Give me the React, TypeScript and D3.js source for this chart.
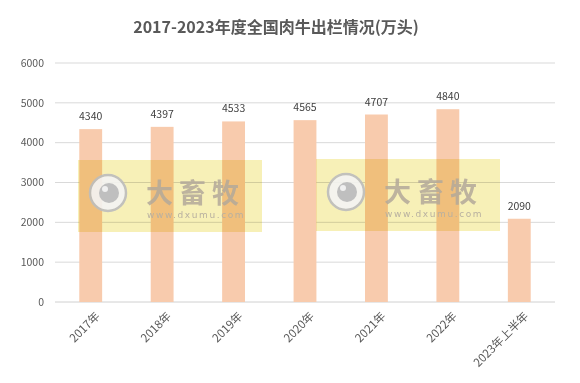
import React from "react";
import * as d3 from "d3";

const categories = ["2017年", "2018年", "2019年", "2020年", "2021年", "2022年", "2023年上半年"];
const values = [4340, 4397, 4533, 4565, 4707, 4840, 2090];
const yTicks = [0, 1000, 2000, 3000, 4000, 5000, 6000];
const title = "2017-2023年度全国肉牛出栏情况(万头)";

const W = 580;
const H = 383;
const margin = { left: 55, right: 25, top: 63, bottom: 81 };
const FONT = "'Noto Sans CJK SC', 'Noto Sans', sans-serif";

function Watermark({ x, y }: { x: number; y: number }) {
  return (
    <g transform={`translate(${x},${y})`}>
      <rect x={0} y={0} width={184} height={72} fill="#f6eeaa" style={{ mixBlendMode: "multiply" }} opacity={0.85} />
      <circle cx={30} cy={33} r={18} fill="#f4f4f4" stroke="#bdbdbd" strokeWidth={2.5} opacity={0.9} />
      <circle cx={31} cy={33} r={10} fill="#bfbfbf" />
      <circle cx={27} cy={29} r={3} fill="#f0f0f0" />
      <text x={68} y={43} fontFamily={FONT} fontWeight="bold" fontSize={27} fill="#b3a99a" opacity={0.85} letterSpacing={6}>
        大畜牧
      </text>
      <text x={69} y={58} fontFamily="'DejaVu Sans', sans-serif" fontSize={9} fill="#b8b0a0" letterSpacing={1.6}>
        www.dxumu.com
      </text>
    </g>
  );
}

export default function App() {
  const x = d3
    .scaleBand<string>()
    .domain(categories)
    .range([margin.left, W - margin.right])
    .paddingInner(0.68)
    .paddingOuter(0.34);
  const y = d3.scaleLinear().domain([0, 6000]).range([H - margin.bottom, margin.top]);

  return (
    <svg width={W} height={H} style={{ position: "absolute", left: 0, top: 0, background: "#fff" }}>
      <rect x={0} y={0} width={W} height={H} fill="#fff" />
      <text x={276} y={33} textAnchor="middle" fontFamily={FONT} fontWeight="bold" fontSize={16} fill="#595959">
        {title}
      </text>
      {yTicks.map((t) => (
        <g key={t}>
          <line x1={margin.left} x2={W - margin.right} y1={y(t)} y2={y(t)} stroke={t === 0 ? "#d0d0d0" : "#d9d9d9"} strokeWidth={1} />
          <text x={44} y={y(t)} dy="0.35em" textAnchor="end" fontFamily={FONT} fontSize={10.5} fill="#595959">
            {t}
          </text>
        </g>
      ))}
      {categories.map((c, i) => (
        <g key={c}>
          <rect x={x(c)!} y={y(values[i])} width={x.bandwidth()} height={y(0) - y(values[i])} fill="#f8cbad" />
          <text x={x(c)! + x.bandwidth() / 2} y={y(values[i]) - 9} textAnchor="middle" fontFamily={FONT} fontSize={10.5} fill="#404040">
            {values[i]}
          </text>
          <text
            transform={`translate(${x(c)! + x.bandwidth() / 2 + 4},${y(0) + 9}) rotate(-45)`}
            textAnchor="end"
            dy="0.72em"
            fontFamily={FONT}
            fontSize={11.5}
            fill="#595959"
          >
            {c}
          </text>
        </g>
      ))}
      <Watermark x={78} y={160} />
      <Watermark x={316} y={159} />
    </svg>
  );
}
